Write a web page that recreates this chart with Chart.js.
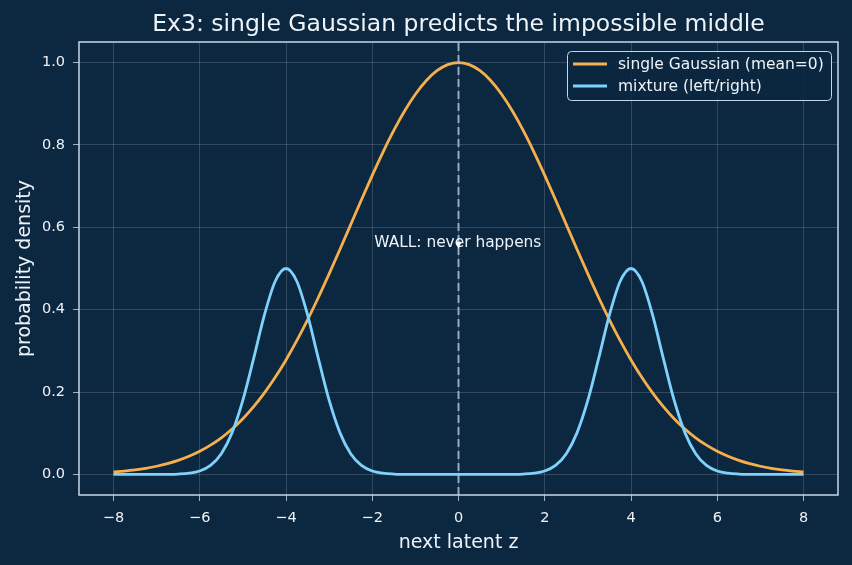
<!DOCTYPE html>
<html>
<head>
<meta charset="utf-8">
<script src="https://cdn.jsdelivr.net/npm/chart.js@4/dist/chart.umd.min.js"></script>
<style>
  html, body { margin: 0; padding: 0; background: #0c2740; }
  #wrap { width: 852px; height: 565px; }
</style>
</head>
<body>
<div id="wrap"><canvas id="c" width="852" height="565"></canvas></div>
<script>
// ---- data ----
const zValues = [-8,-7.75,-7.5,-7.25,-7,-6.75,-6.5,-6.25,-6,-5.75,-5.5,-5.25,-5,-4.75,-4.5,-4.25,-4,-3.75,-3.5,-3.25,-3,-2.75,-2.5,-2.25,-2,-1.75,-1.5,-1.25,-1,-0.75,-0.5,-0.25,0,0.25,0.5,0.75,1,1.25,1.5,1.75,2,2.25,2.5,2.75,3,3.25,3.5,3.75,4,4.25,4.5,4.75,5,5.25,5.5,5.75,6,6.25,6.5,6.75,7,7.25,7.5,7.75,8];
const singleGaussian = [0.0060,0.0082,0.0111,0.0149,0.0198,0.0261,0.0340,0.0439,0.0561,0.0710,0.0889,0.1103,0.1353,0.1645,0.1979,0.2357,0.2780,0.3247,0.3753,0.4296,0.4868,0.5461,0.6065,0.6670,0.7261,0.7827,0.8353,0.8825,0.9231,0.9560,0.9802,0.9950,1.0000,0.9950,0.9802,0.9560,0.9231,0.8825,0.8353,0.7827,0.7261,0.6670,0.6065,0.5461,0.4868,0.4296,0.3753,0.3247,0.2780,0.2357,0.1979,0.1645,0.1353,0.1103,0.0889,0.0710,0.0561,0.0439,0.0340,0.0261,0.0198,0.0149,0.0111,0.0082,0.0060];
const mixture = [0.0000,0.0000,0.0000,0.0000,0.0000,0.0002,0.0009,0.0029,0.0084,0.0220,0.0503,0.1015,0.1802,0.2816,0.3874,0.4691,0.5000,0.4691,0.3874,0.2816,0.1802,0.1015,0.0503,0.0220,0.0084,0.0029,0.0009,0.0002,0.0000,0.0000,0.0000,0.0000,0.0000,0.0000,0.0000,0.0000,0.0000,0.0002,0.0009,0.0029,0.0084,0.0220,0.0503,0.1015,0.1802,0.2816,0.3874,0.4691,0.5000,0.4691,0.3874,0.2816,0.1802,0.1015,0.0503,0.0220,0.0084,0.0029,0.0009,0.0002,0.0000,0.0000,0.0000,0.0000,0.0000];
const wallX = 0;
const xTicks = [-8,-6,-4,-2,0,2,4,6,8];
const xTickLabels = ["\u22128","\u22126","\u22124","\u22122","0","2","4","6","8"];
const yTicks = [0,0.2,0.4,0.6,0.8,1.0];
const yTickLabels = ["0.0","0.2","0.4","0.6","0.8","1.0"];
const seriesNames = ["single Gaussian (mean=0)", "mixture (left/right)"];
const titleText = "Ex3: single Gaussian predicts the impossible middle";
const xLabel = "next latent z";
const yLabel = "probability density";
const annotationText = "WALL: never happens";
const annotationAt = { x: -2, y: 0.55 };
const arrowTarget = { x: 0, y: 0.555 };

// ---- styles ----
const BG = "#0c2740";
const ORANGE = "#f5b04c";
const BLUE = "#7fd2fb";
const SPINE = "#c9d7e4";
const TEXT = "#eef3f8";
const FONT = "'DejaVu Sans', sans-serif";

const toPts = (ys) => zValues.map((x, i) => ({ x: x, y: ys[i] }));

const decorPlugin = {
  id: 'decor',
  beforeDraw(chart) {
    const ctx = chart.ctx;
    ctx.save();
    ctx.fillStyle = BG;
    ctx.fillRect(0, 0, chart.width, chart.height);
    ctx.restore();
  },
  afterDraw(chart) {
    const ctx = chart.ctx;
    const a = chart.chartArea;
    const xs = chart.scales.x, ys = chart.scales.y;
    ctx.save();
    // frame
    ctx.strokeStyle = SPINE;
    ctx.lineWidth = 1.5;
    ctx.strokeRect(a.left, a.top, a.right - a.left, a.bottom - a.top);

    // title
    ctx.fillStyle = TEXT;
    ctx.font = "23.5px " + FONT;
    ctx.textAlign = "center";
    ctx.textBaseline = "alphabetic";
    ctx.fillText(titleText, (a.left + a.right) / 2, 31);

    // axis labels
    ctx.font = "19px " + FONT;
    ctx.fillText(xLabel, (a.left + a.right) / 2, 548);
    ctx.save();
    ctx.translate(30, (a.top + a.bottom) / 2);
    ctx.rotate(-Math.PI / 2);
    ctx.fillText(yLabel, 0, 0);
    ctx.restore();

    // annotation
    ctx.font = "15.4px " + FONT;
    ctx.textAlign = "left";
    ctx.fillText(annotationText, xs.getPixelForValue(annotationAt.x) + 2, ys.getPixelForValue(annotationAt.y) - 0.5);
    const tx = xs.getPixelForValue(arrowTarget.x), ty = ys.getPixelForValue(arrowTarget.y);
    ctx.fillStyle = "#ffffff";
    ctx.beginPath();
    ctx.moveTo(tx, ty + 3);
    ctx.lineTo(tx - 3, ty - 4);
    ctx.lineTo(tx + 3, ty - 4);
    ctx.closePath();
    ctx.fill();

    // legend
    const lx = 567.5, ly = 51.5, lw = 264, lh = 49;
    ctx.beginPath();
    ctx.roundRect(lx, ly, lw, lh, 4);
    ctx.fillStyle = "rgba(12,39,64,0.85)";
    ctx.fill();
    ctx.strokeStyle = SPINE;
    ctx.lineWidth = 1;
    ctx.stroke();
    const colors = [ORANGE, BLUE];
    const rowsY = [64, 86];
    ctx.font = "15.5px " + FONT;
    ctx.textBaseline = "middle";
    for (let i = 0; i < seriesNames.length; i++) {
      ctx.strokeStyle = colors[i];
      ctx.lineWidth = 2.8;
      ctx.beginPath();
      ctx.moveTo(573, rowsY[i]);
      ctx.lineTo(607, rowsY[i]);
      ctx.stroke();
      ctx.fillStyle = TEXT;
      ctx.fillText(seriesNames[i], 618, rowsY[i] + 0.5);
    }
    ctx.restore();
  }
};

new Chart(document.getElementById('c'), {
  type: 'line',
  data: {
    datasets: [
      {
        label: 'wall',
        data: [{ x: wallX, y: -0.05 }, { x: wallX, y: 1.05 }],
        borderColor: "rgba(170,190,210,0.85)",
        borderWidth: 2,
        borderDash: [8, 4],
        pointRadius: 0,
        order: 0
      },
      {
        label: seriesNames[1],
        data: toPts(mixture),
        borderColor: BLUE,
        borderWidth: 2.8,
        pointRadius: 0,
        cubicInterpolationMode: 'monotone',
        order: 1
      },
      {
        label: seriesNames[0],
        data: toPts(singleGaussian),
        borderColor: ORANGE,
        borderWidth: 2.8,
        pointRadius: 0,
        cubicInterpolationMode: 'monotone',
        order: 2
      }
    ]
  },
  options: {
    responsive: false,
    animation: false,
    devicePixelRatio: 1,
    layout: { padding: { top: 42, right: 14, left: 0, bottom: 0 } },
    plugins: { legend: { display: false }, title: { display: false }, tooltip: { enabled: false } },
    scales: {
      x: {
        type: 'linear',
        min: -8.8, max: 8.8,
        afterBuildTicks: (s) => { s.ticks = xTicks.map(v => ({ value: v })); },
        afterFit: (s) => { s.height = 70; },
        ticks: {
          autoSkip: false, maxRotation: 0, color: TEXT, padding: 9,
          font: { family: FONT, size: 14.5 },
          callback: (v, i) => xTickLabels[i]
        },
        grid: { color: "rgba(255,255,255,0.2)", lineWidth: 0.8, tickColor: SPINE, tickLength: 6, drawTicks: true },
        border: { display: false }
      },
      y: {
        type: 'linear',
        min: -0.05, max: 1.05,
        afterBuildTicks: (s) => { s.ticks = yTicks.map(v => ({ value: v })); },
        afterFit: (s) => { s.width = 79; },
        ticks: {
          autoSkip: false, color: TEXT, padding: 8,
          font: { family: FONT, size: 14.5 },
          callback: (v, i) => yTickLabels[i]
        },
        grid: { color: "rgba(255,255,255,0.2)", lineWidth: 0.8, tickColor: SPINE, tickLength: 6, drawTicks: true },
        border: { display: false }
      }
    }
  },
  plugins: [decorPlugin]
});
</script>
</body>
</html>
